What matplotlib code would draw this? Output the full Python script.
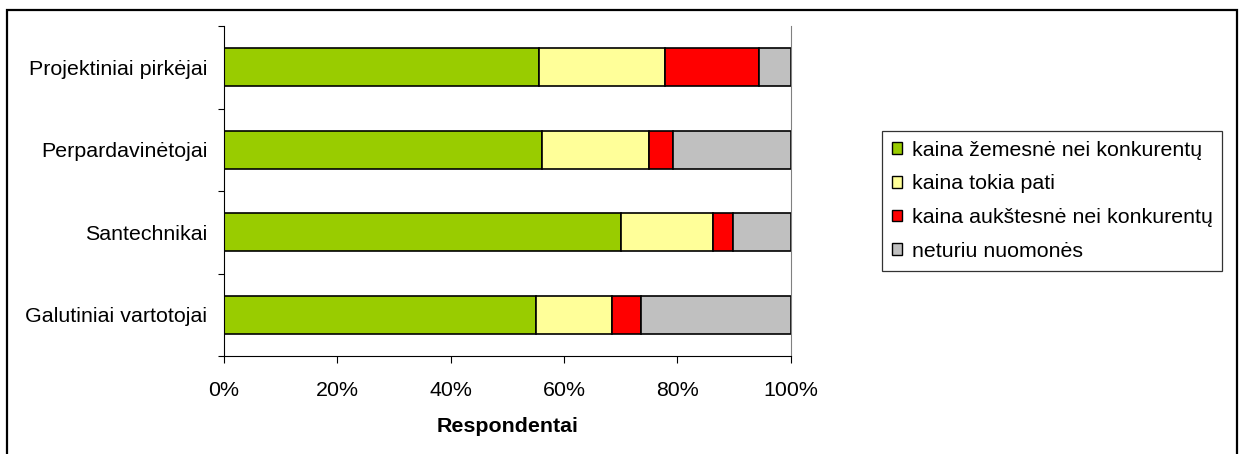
import matplotlib
matplotlib.use("Agg")
import matplotlib.pyplot as plt
from matplotlib.patches import Rectangle, Patch
from matplotlib.ticker import FixedLocator, PercentFormatter
import numpy as np

plt.rcParams['font.family'] = ['Liberation Sans', 'DejaVu Sans']

categories = ["Galutiniai vartotojai", "Santechnikai", "Perpardavinėtojai", "Projektiniai pirkėjai"]
series_names = ["kaina žemesnė nei konkurentų", "kaina tokia pati",
                "kaina aukštesnė nei konkurentų", "neturiu nuomonės"]
lower = [55.1, 70.0, 56.2, 55.6]
same = [13.4, 16.3, 18.8, 22.2]
higher = [5.1, 3.5, 4.3, 16.7]
no_opinion = [26.4, 10.2, 20.7, 5.5]
colors = ["#99CC00", "#FFFF99", "#FF0000", "#C0C0C0"]
xticks = [0, 20, 40, 60, 80, 100]

W, H = 1242, 454
FS = 15.4
fig = plt.figure(figsize=(W / 100, H / 100), dpi=100)
ax = fig.add_axes([224 / W, 1 - 356 / H, (790.5 - 224) / W, (356 - 26) / H])

y = np.arange(len(categories))
left = np.zeros(len(categories))
for vals, col, name in zip([lower, same, higher, no_opinion], colors, series_names):
    ax.barh(y, vals, left=left, height=0.46, color=col, edgecolor="black",
            linewidth=1.2, label=name)
    left += np.array(vals)

ax.set_xlim(0, 100)
ax.set_ylim(-0.5, len(categories) - 0.5)
ax.set_xticks(xticks)
ax.xaxis.set_major_formatter(PercentFormatter(decimals=0))
ax.set_yticks(y)
ax.set_yticklabels(categories)
ax.yaxis.set_minor_locator(FixedLocator(np.arange(-0.5, len(categories), 1.0)))
ax.tick_params(axis="y", which="major", length=0, pad=12, labelsize=FS)
ax.tick_params(axis="y", which="minor", length=4, width=0.8, direction="out")
ax.tick_params(axis="x", which="major", length=5, width=0.8, direction="out",
               pad=13, labelsize=FS)

ax.spines["top"].set_visible(False)
ax.spines["right"].set_color("#808080")
ax.spines["right"].set_linewidth(0.8)
ax.spines["left"].set_linewidth(0.8)
ax.spines["bottom"].set_linewidth(0.8)

ax.set_xlabel("Respondentai", fontsize=FS, fontweight="bold", labelpad=12)

handles = [Patch(facecolor=c, edgecolor="black", linewidth=1.0) for c in colors]
leg = fig.legend(handles, series_names, loc="upper left",
                 bbox_to_anchor=(882 / W, 1 - 131 / H), fontsize=FS,
                 frameon=True, fancybox=False, edgecolor="black",
                 handlelength=0.47, handleheight=0.47, handletextpad=0.47,
                 labelspacing=0.69, borderpad=0.45, borderaxespad=0)
leg.get_frame().set_linewidth(0.9)

fig.patches.append(Rectangle((7 / W, -0.05), (1237 - 7) / W, 1 - 10 / H + 0.05,
                             transform=fig.transFigure, fill=False,
                             edgecolor="black", linewidth=1.6))

fig.savefig("out.png", dpi=100)
